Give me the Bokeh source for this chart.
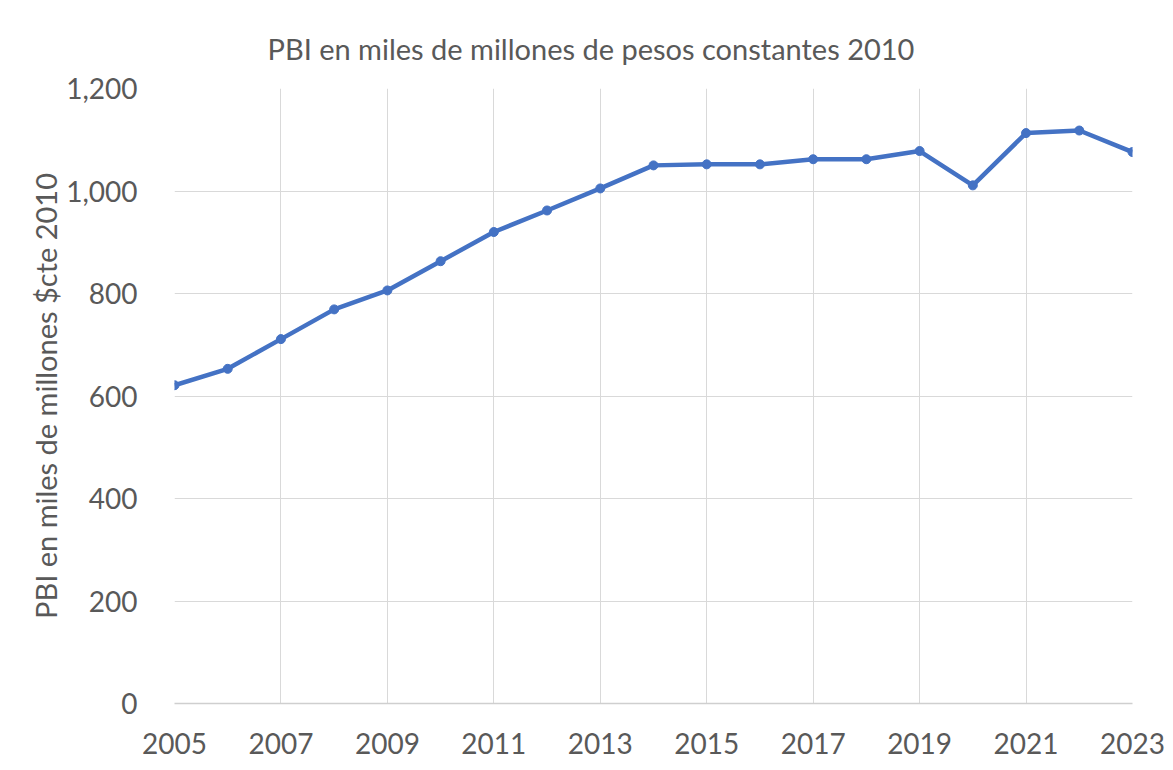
from bokeh.plotting import figure
from bokeh.models import FixedTicker, NumeralTickFormatter, Range1d, Title
from bokeh.embed import file_html
from bokeh.resources import INLINE

years = list(range(2005, 2024))
pbi = [621, 653, 711, 769, 806, 863, 920, 962, 1005, 1050, 1052, 1052,
       1062, 1062, 1078, 1011, 1113, 1118, 1076]
x_ticks = list(range(2005, 2024, 2))
y_ticks = [0, 200, 400, 600, 800, 1000, 1200]

FONT = "Lato"
TXT = "#595959"
GRID = "#d9d9d9"
BLUE = "#4472C4"

p = figure(width=1165, height=762, output_backend="svg", toolbar_location=None,
           x_range=Range1d(2005, 2023), y_range=Range1d(0, 1200),
           min_border_left=174, min_border_right=33, min_border_top=88,
           min_border_bottom=59)
p.title = None
t = Title(text="PBI en miles de millones de pesos constantes 2010", align="left",
          text_font=FONT, text_font_size="29px", text_color=TXT,
          text_font_style="normal", offset=93, standoff=45)
p.add_layout(t, "above")

p.outline_line_color = None
p.xaxis.ticker = FixedTicker(ticks=x_ticks)
p.yaxis.ticker = FixedTicker(ticks=y_ticks)
p.yaxis.formatter = NumeralTickFormatter(format="0,0")
for ax in (p.xaxis, p.yaxis):
    ax.major_tick_line_color = None
    ax.minor_tick_line_color = None
    ax.major_label_text_font = FONT
    ax.major_label_text_font_size = "28px"
    ax.major_label_text_color = TXT
p.yaxis.axis_line_color = None
p.xaxis.axis_line_color = "#cfcfcf"
p.xaxis.axis_line_width = 1.5
p.yaxis.major_label_standoff = 31
p.xaxis.major_label_standoff = 23
p.yaxis.axis_label = "PBI en miles de millones $cte 2010"
p.yaxis.axis_label_text_font = FONT
p.yaxis.axis_label_text_font_size = "29px"
p.yaxis.axis_label_text_font_style = "normal"
p.yaxis.axis_label_text_color = TXT
p.yaxis.axis_label_standoff = 0

p.xgrid.ticker = FixedTicker(ticks=x_ticks)
p.ygrid.ticker = FixedTicker(ticks=y_ticks)
p.grid.grid_line_color = GRID
p.grid.grid_line_width = 1

p.line(years, pbi, line_color=BLUE, line_width=4.5)
p.scatter(years, pbi, size=9, fill_color=BLUE, line_color=BLUE)

open("out.html", "w").write(file_html(p, INLINE))
